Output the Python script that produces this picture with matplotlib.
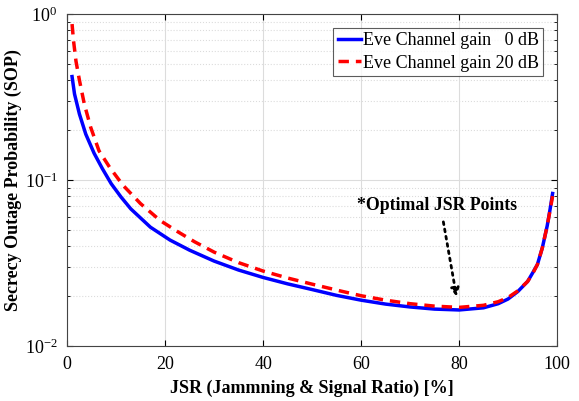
import matplotlib
matplotlib.use("Agg")
import matplotlib.pyplot as plt

plt.rcParams['font.family'] = ['Liberation Serif', 'DejaVu Serif']
plt.rcParams['mathtext.fontset'] = 'custom'
plt.rcParams['mathtext.rm'] = 'Liberation Serif'
plt.rcParams['mathtext.it'] = 'Liberation Serif:italic'
plt.rcParams['mathtext.bf'] = 'Liberation Serif:bold'

# JSR [%] and SOP values
jsr_0db = [1, 1.5, 2.5, 3.8, 5.5, 7.2, 9, 11, 13, 17, 21, 25, 30, 35, 40, 45,
           50, 55, 60, 65, 70, 75, 80, 85, 88, 90, 92, 94, 95, 96, 97, 98,
           98.6, 99.1]
sop_0db = [0.42, 0.33, 0.25, 0.189, 0.145, 0.117, 0.095, 0.079, 0.067, 0.052,
           0.0435, 0.0378, 0.0325, 0.0287, 0.0259, 0.0237, 0.0219, 0.0202,
           0.0189, 0.0179, 0.0172, 0.0167, 0.0165, 0.0170, 0.0180, 0.0192,
           0.0213, 0.0245, 0.0275, 0.031, 0.039, 0.053, 0.067, 0.083]

jsr_20db = [1, 1.3, 1.8, 2.5, 3.5, 4.8, 6.5, 8.7, 11.4, 15, 19, 22.5, 26, 30,
            35, 40, 45, 50, 56, 60, 65, 70, 75, 80, 85, 88, 90, 92, 94, 95,
            96, 97, 98, 98.6, 99.1]
sop_20db = [0.87, 0.69, 0.52, 0.40, 0.287, 0.208, 0.150, 0.119, 0.093, 0.072,
            0.057, 0.049, 0.0425, 0.0368, 0.0318, 0.0283, 0.0257, 0.0236,
            0.0214, 0.0201, 0.0189, 0.0180, 0.0174, 0.0171, 0.0176, 0.0185,
            0.0196, 0.0215, 0.0245, 0.0272, 0.031, 0.039, 0.053, 0.066, 0.080]

labels = ['Eve Channel gain   0 dB', 'Eve Channel gain 20 dB']

fig = plt.figure(figsize=(5.79, 4.01), dpi=100)
ax = fig.add_axes([0.116, 0.137, 0.846, 0.828])

ax.plot(jsr_0db, sop_0db, color='blue', lw=2.5, label=labels[0],
        solid_joinstyle='round')
ax.plot(jsr_20db, sop_20db, color='red', lw=2.5, ls=(0, (3, 2)), label=labels[1])

ax.set_yscale('log')
ax.set_xlim(0, 100)
ax.set_ylim(1e-2, 1)
ax.set_xticks([0, 20, 40, 60, 80, 100])

ax.grid(True, which='major', color='#dcdcdc', lw=0.8)
ax.grid(True, which='minor', axis='y', color='#dcdcdc', lw=0.8, ls=':')
ax.tick_params(which='both', direction='in', top=True, right=True, labelsize=13)
ax.tick_params(which='major', length=4, pad=7)
ax.tick_params(which='minor', length=2)
for s in ax.spines.values():
    s.set_color('#444444')
    s.set_linewidth(0.8)

ax.set_xlabel('JSR (Jammning & Signal Ratio) [%]', fontsize=13, fontweight='bold', labelpad=5)
ax.set_ylabel('Secrecy Outage Probability (SOP)', fontsize=13, fontweight='bold', labelpad=2)

leg = ax.legend(loc='upper right', fontsize=13, frameon=True, fancybox=False,
                edgecolor='#333333', handlelength=1.3, handletextpad=0.1,
                borderpad=0.25, labelspacing=0.3, borderaxespad=0.75)
leg.get_frame().set_linewidth(0.8)

ax.annotate('', xy=(79.5, 0.0198), xytext=(76.8, 0.056),
            arrowprops=dict(arrowstyle='-|>', ls=':', lw=2, color='black',
                            mutation_scale=12, shrinkA=0, shrinkB=0))
ax.text(59.1, 0.0707, '*Optimal JSR Points', fontsize=12.8, fontweight='bold',
        ha='left', va='center')

fig.savefig('out.png', dpi=100)
